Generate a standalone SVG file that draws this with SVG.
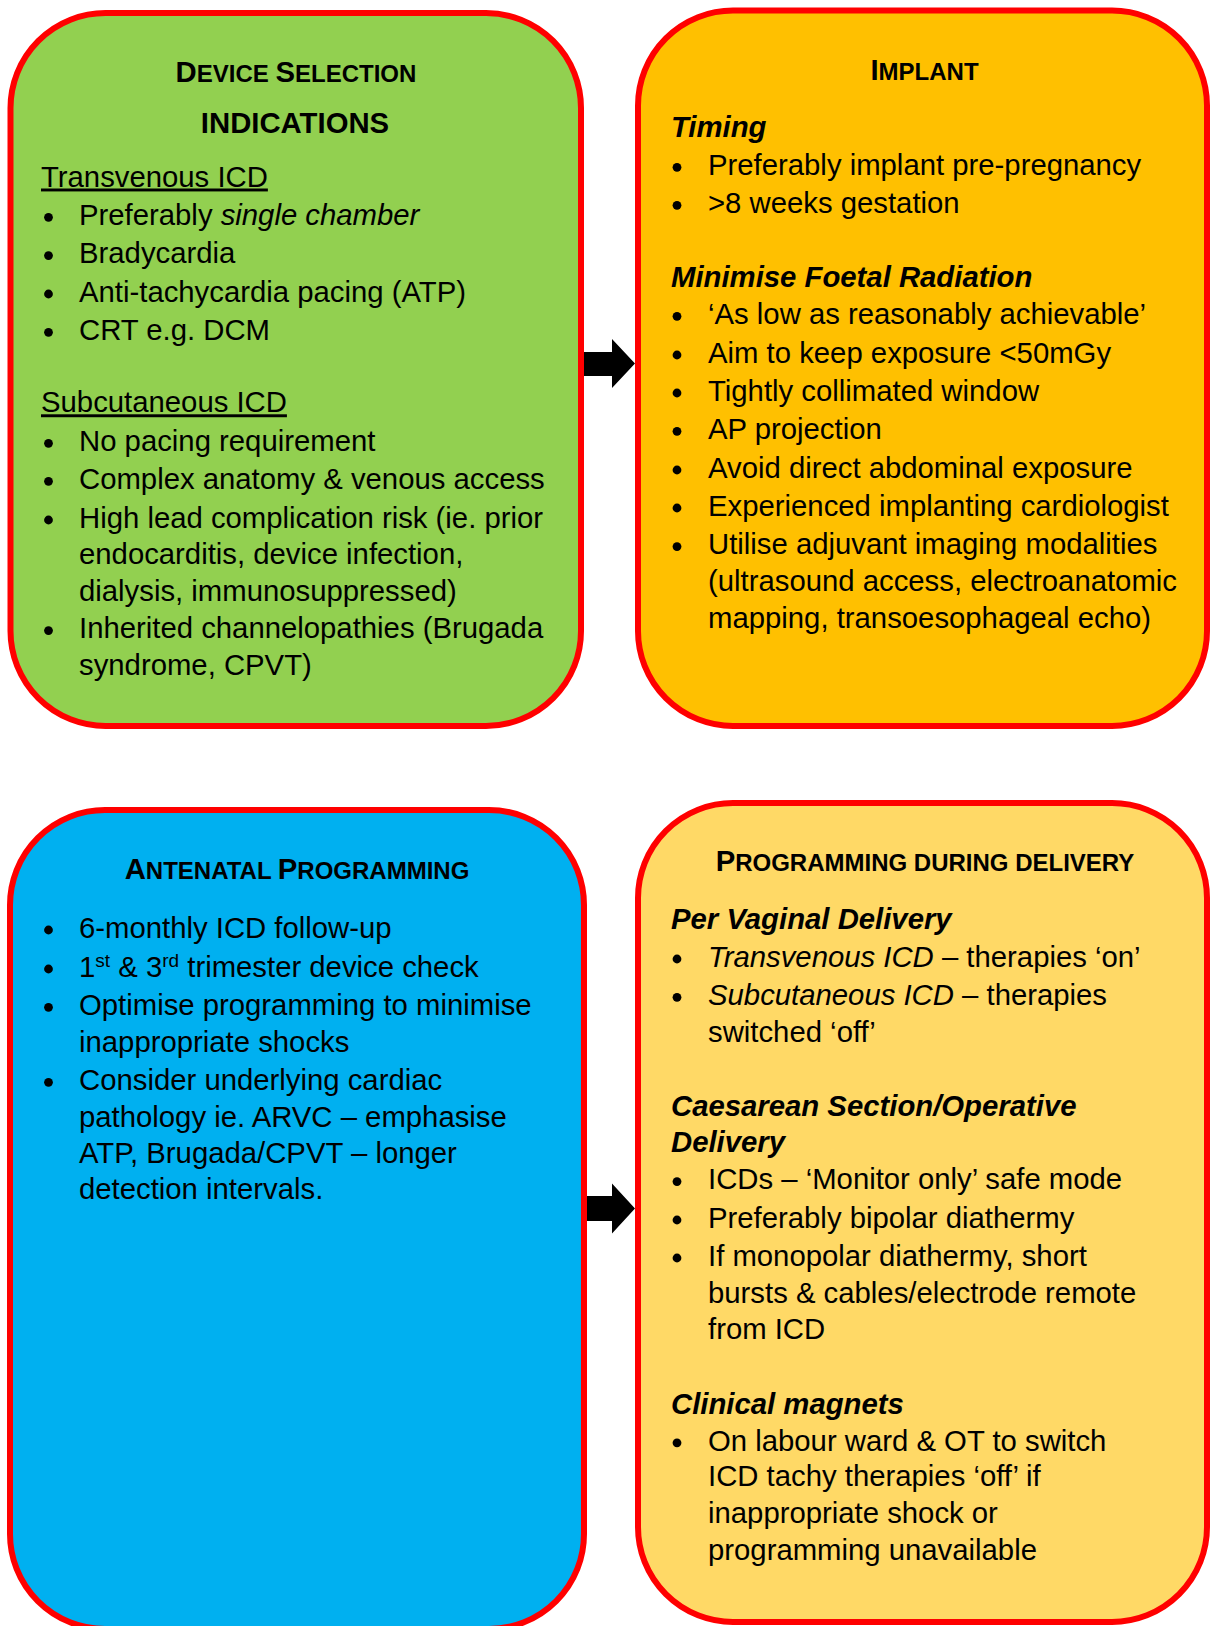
<svg xmlns="http://www.w3.org/2000/svg" width="1212" height="1626" viewBox="0 0 1212 1626">
<style>
.box{stroke:#FF0000;stroke-width:6}
.g{fill:#92D050}.o{fill:#FFC000}.b{fill:#00B0F0}.y{fill:#FFD966}
text{font-family:"Liberation Sans",Arial,sans-serif;fill:#000}
.t{font-size:29.3px}
.h{font-size:29.3px;font-weight:bold}
.sc{font-size:24px}
.sh{font-size:29.3px;font-weight:bold;font-style:italic}
.u{text-decoration:underline}
.i{font-style:italic}
.bul{fill:#000}
.arrow{fill:#000}
</style>
<defs>
<circle id="dot" r="4.4" class="bul"/>
</defs>

<g id="device-selection">
<rect class="box g" x="10.5" y="13" width="570.5" height="713" rx="95" ry="95"/>
<text class="h" x="296" y="81.5" text-anchor="middle">D<tspan class="sc">EVICE </tspan>S<tspan class="sc">ELECTION</tspan></text>
<text class="h" x="295" y="133.3" text-anchor="middle">INDICATIONS</text>
<text class="t u" x="41" y="186.5">Transvenous ICD</text>
<use href="#dot" x="48.5" y="217.3"/><text class="t" x="79" y="225">Preferably <tspan class="i">single chamber</tspan></text>
<use href="#dot" x="48.5" y="255.6"/><text class="t" x="79" y="263.3">Bradycardia</text>
<use href="#dot" x="48.5" y="294"/><text class="t" x="79" y="301.7">Anti-tachycardia pacing (ATP)</text>
<use href="#dot" x="48.5" y="332.3"/><text class="t" x="79" y="340">CRT e.g. DCM</text>
<text class="t u" x="41" y="412.3">Subcutaneous ICD</text>
<use href="#dot" x="48.5" y="443.3"/><text class="t" x="79" y="451">No pacing requirement</text>
<use href="#dot" x="48.5" y="481.3"/><text class="t" x="79" y="489">Complex anatomy &amp; venous access</text>
<use href="#dot" x="48.5" y="520"/><text class="t" x="79" y="527.7">High lead complication risk (ie. prior</text>
<text class="t" x="79" y="564.3">endocarditis, device infection,</text>
<text class="t" x="79" y="600.5">dialysis, immunosuppressed)</text>
<use href="#dot" x="48.5" y="630.6"/><text class="t" x="79" y="638.3">Inherited channelopathies (Brugada</text>
<text class="t" x="79" y="675">syndrome, CPVT)</text>
</g>

<g id="implant">
<rect class="box o" x="638" y="10.5" width="569" height="715.5" rx="95" ry="95"/>
<text class="h" x="924.5" y="80" text-anchor="middle">I<tspan class="sc">MPLANT</tspan></text>
<text class="sh" x="671" y="137.3">Timing</text>
<use href="#dot" x="677" y="167.3"/><text class="t" x="708" y="175">Preferably implant pre-pregnancy</text>
<use href="#dot" x="677" y="205.3"/><text class="t" x="708" y="213">&gt;8 weeks gestation</text>
<text class="sh" x="671" y="287.3">Minimise Foetal Radiation</text>
<use href="#dot" x="677" y="316.3"/><text class="t" x="708" y="324">‘As low as reasonably achievable’</text>
<use href="#dot" x="677" y="355"/><text class="t" x="708" y="362.7">Aim to keep exposure &lt;50mGy</text>
<use href="#dot" x="677" y="393"/><text class="t" x="708" y="400.7">Tightly collimated window</text>
<use href="#dot" x="677" y="431.3"/><text class="t" x="708" y="439">AP projection</text>
<use href="#dot" x="677" y="470"/><text class="t" x="708" y="477.7">Avoid direct abdominal exposure</text>
<use href="#dot" x="677" y="508"/><text class="t" x="708" y="515.7">Experienced implanting cardiologist</text>
<use href="#dot" x="677" y="546.6"/><text class="t" x="708" y="554.3">Utilise adjuvant imaging modalities</text>
<text class="t" x="708" y="591">(ultrasound access, electroanatomic</text>
<text class="t" x="708" y="627.5">mapping, transoesophageal echo)</text>
</g>

<g id="antenatal-programming">
<rect class="box b" x="10" y="810" width="574" height="819" rx="95" ry="95"/>
<text class="h" x="297" y="879" text-anchor="middle">A<tspan class="sc">NTENATAL </tspan>P<tspan class="sc">ROGRAMMING</tspan></text>
<use href="#dot" x="48.5" y="930"/><text class="t" x="79" y="937.7">6-monthly ICD follow-up</text>
<use href="#dot" x="48.5" y="969"/><text class="t" x="79" y="976.7">1<tspan font-size="19" dy="-10">st</tspan><tspan dy="10"> &amp; 3</tspan><tspan font-size="19" dy="-10">rd</tspan><tspan dy="10"> trimester device check</tspan></text>
<use href="#dot" x="48.5" y="1007.3"/><text class="t" x="79" y="1015">Optimise programming to minimise</text>
<text class="t" x="79" y="1051.7">inappropriate shocks</text>
<use href="#dot" x="48.5" y="1082.3"/><text class="t" x="79" y="1090">Consider underlying cardiac</text>
<text class="t" x="79" y="1126.7">pathology ie. ARVC – emphasise</text>
<text class="t" x="79" y="1162.7">ATP, Brugada/CPVT – longer</text>
<text class="t" x="79" y="1198.7">detection intervals.</text>
</g>

<g id="programming-during-delivery">
<rect class="box y" x="638" y="803" width="569" height="819" rx="95" ry="95"/>
<text class="h" x="925" y="870.7" text-anchor="middle">P<tspan class="sc">ROGRAMMING DURING DELIVERY</tspan></text>
<text class="sh" x="671" y="929">Per Vaginal Delivery</text>
<use href="#dot" x="677" y="959"/><text class="t" x="708" y="966.7"><tspan class="i">Transvenous ICD</tspan> – therapies ‘on’</text>
<use href="#dot" x="677" y="997.3"/><text class="t" x="708" y="1005"><tspan class="i">Subcutaneous ICD</tspan> – therapies</text>
<text class="t" x="708" y="1041.7">switched ‘off’</text>
<text class="sh" x="671" y="1115.5">Caesarean Section/Operative</text>
<text class="sh" x="671" y="1152">Delivery</text>
<use href="#dot" x="677" y="1181.6"/><text class="t" x="708" y="1189.3">ICDs – ‘Monitor only’ safe mode</text>
<use href="#dot" x="677" y="1220"/><text class="t" x="708" y="1227.7">Preferably bipolar diathermy</text>
<use href="#dot" x="677" y="1258"/><text class="t" x="708" y="1265.7">If monopolar diathermy, short</text>
<text class="t" x="708" y="1302.7">bursts &amp; cables/electrode remote</text>
<text class="t" x="708" y="1339.3">from ICD</text>
<text class="sh" x="671" y="1413.5">Clinical magnets</text>
<use href="#dot" x="677" y="1442.8"/><text class="t" x="708" y="1450.5">On labour ward &amp; OT to switch</text>
<text class="t" x="708" y="1486">ICD tachy therapies ‘off’ if</text>
<text class="t" x="708" y="1523">inappropriate shock or</text>
<text class="t" x="708" y="1559.5">programming unavailable</text>
</g>

<g id="connectors">
<polygon class="arrow" points="584,352 612,352 612,339 635,363.5 612,388 612,376 584,376"/>
<polygon class="arrow" points="587,1196 612,1196 612,1183.5 635,1208.5 612,1233.5 612,1221 587,1221"/>
</g>
</svg>
